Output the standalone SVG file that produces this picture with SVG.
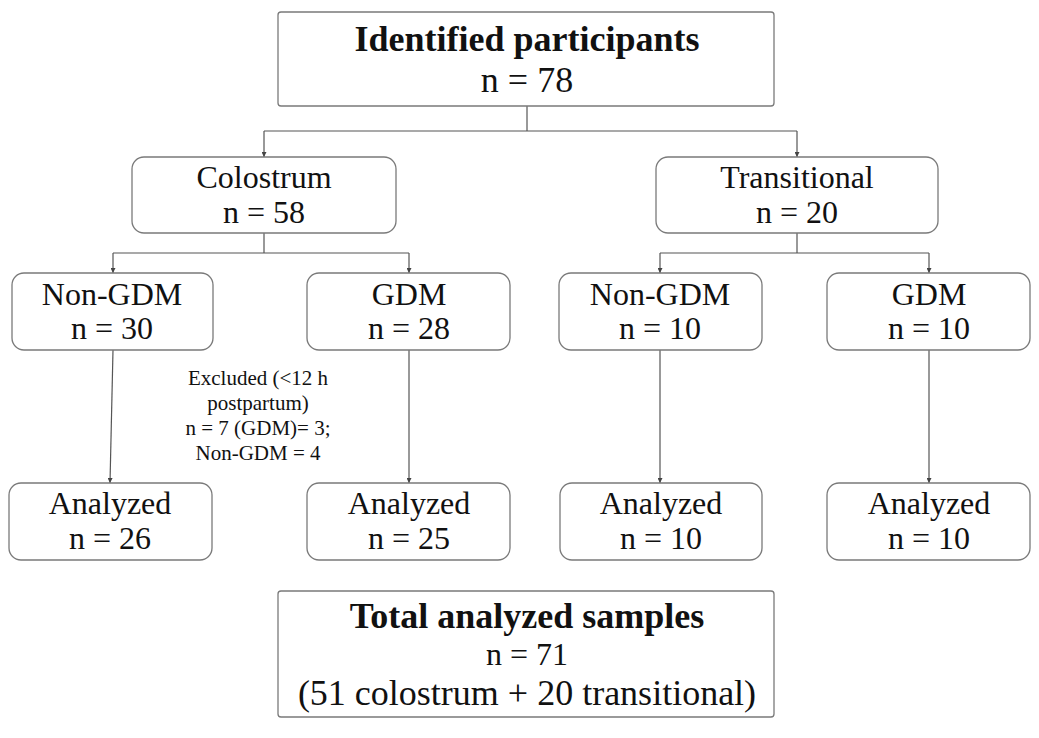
<svg xmlns="http://www.w3.org/2000/svg" width="1039" height="738" viewBox="0 0 1039 738">
  <style>
    .box { fill: #ffffff; stroke: #7a7a7a; stroke-width: 1.3; }
    .t { font-family: "Liberation Serif", "Times New Roman", serif; fill: #111; text-anchor: middle; }
    .big { font-size: 36px; }
    .bold { font-weight: bold; }
    .mid { font-size: 32px; }
    .small { font-size: 21px; }
    .ln { fill: none; stroke: #555; stroke-width: 1.2; }
  </style>
  <defs>
    <marker id="ah" viewBox="0 0 6 6" refX="6" refY="3" markerWidth="5" markerHeight="5" orient="auto" markerUnits="userSpaceOnUse">
      <path d="M0,0 L6,3 L0,6 Z" fill="#444"/>
    </marker>
  </defs>
  <rect width="1039" height="738" fill="#ffffff"/>

  <g id="connectors">
    <path class="ln" d="M527,106 V131"/>
    <path class="ln" d="M264,131 H797"/>
    <path class="ln" d="M264,131 V157" marker-end="url(#ah)"/>
    <path class="ln" d="M797,131 V157" marker-end="url(#ah)"/>
    <path class="ln" d="M264,233 V253"/>
    <path class="ln" d="M113,253 H409"/>
    <path class="ln" d="M113,253 V273" marker-end="url(#ah)"/>
    <path class="ln" d="M409,253 V273" marker-end="url(#ah)"/>
    <path class="ln" d="M797,233 V253"/>
    <path class="ln" d="M660,253 H929"/>
    <path class="ln" d="M660,253 V273" marker-end="url(#ah)"/>
    <path class="ln" d="M929,253 V273" marker-end="url(#ah)"/>
    <path class="ln" d="M113,350 L110,483" marker-end="url(#ah)"/>
    <path class="ln" d="M409,350 V483" marker-end="url(#ah)"/>
    <path class="ln" d="M660,350 V483" marker-end="url(#ah)"/>
    <path class="ln" d="M929,350 V483" marker-end="url(#ah)"/>
  </g>

  <g id="identified">
    <rect class="box" x="278" y="12" width="496" height="94" rx="3"/>
    <text class="t big bold" x="527" y="51">Identified participants</text>
    <text class="t big" x="527" y="92">n = 78</text>
  </g>

  <g id="colostrum">
    <rect class="box" x="132" y="157" width="264" height="76" rx="12"/>
    <text class="t mid" x="264" y="188">Colostrum</text>
    <text class="t mid" x="264" y="223">n = 58</text>
  </g>

  <g id="transitional">
    <rect class="box" x="656" y="157" width="282" height="76" rx="12"/>
    <text class="t mid" x="797" y="188">Transitional</text>
    <text class="t mid" x="797" y="223">n = 20</text>
  </g>

  <g id="col-nongdm">
    <rect class="box" x="12" y="273" width="201" height="77" rx="12"/>
    <text class="t mid" x="112" y="305">Non-GDM</text>
    <text class="t mid" x="112" y="339">n = 30</text>
  </g>

  <g id="col-gdm">
    <rect class="box" x="307" y="273" width="203" height="77" rx="12"/>
    <text class="t mid" x="409" y="305">GDM</text>
    <text class="t mid" x="409" y="339">n = 28</text>
  </g>

  <g id="tr-nongdm">
    <rect class="box" x="559" y="273" width="203" height="77" rx="12"/>
    <text class="t mid" x="660" y="305">Non-GDM</text>
    <text class="t mid" x="660" y="339">n = 10</text>
  </g>

  <g id="tr-gdm">
    <rect class="box" x="827" y="273" width="203" height="77" rx="12"/>
    <text class="t mid" x="929" y="305">GDM</text>
    <text class="t mid" x="929" y="339">n = 10</text>
  </g>

  <g id="excluded">
    <text class="t small" x="258" y="385">Excluded (&lt;12 h</text>
    <text class="t small" x="258" y="410">postpartum)</text>
    <text class="t small" x="258" y="435">n = 7 (GDM)= 3;</text>
    <text class="t small" x="258" y="460">Non-GDM = 4</text>
  </g>

  <g id="an-col-nongdm">
    <rect class="box" x="9" y="483" width="203" height="77" rx="12"/>
    <text class="t mid" x="110" y="514">Analyzed</text>
    <text class="t mid" x="110" y="549">n = 26</text>
  </g>

  <g id="an-col-gdm">
    <rect class="box" x="307" y="483" width="203" height="77" rx="12"/>
    <text class="t mid" x="409" y="514">Analyzed</text>
    <text class="t mid" x="409" y="549">n = 25</text>
  </g>

  <g id="an-tr-nongdm">
    <rect class="box" x="560" y="483" width="202" height="77" rx="12"/>
    <text class="t mid" x="661" y="514">Analyzed</text>
    <text class="t mid" x="661" y="549">n = 10</text>
  </g>

  <g id="an-tr-gdm">
    <rect class="box" x="827" y="483" width="203" height="77" rx="12"/>
    <text class="t mid" x="929" y="514">Analyzed</text>
    <text class="t mid" x="929" y="549">n = 10</text>
  </g>

  <g id="total">
    <rect class="box" x="278" y="591" width="496" height="126" rx="3"/>
    <text class="t big bold" x="527" y="628">Total analyzed samples</text>
    <text class="t mid" x="527" y="665">n = 71</text>
    <text class="t big" x="527" y="705">(51 colostrum + 20 transitional)</text>
  </g>
</svg>
